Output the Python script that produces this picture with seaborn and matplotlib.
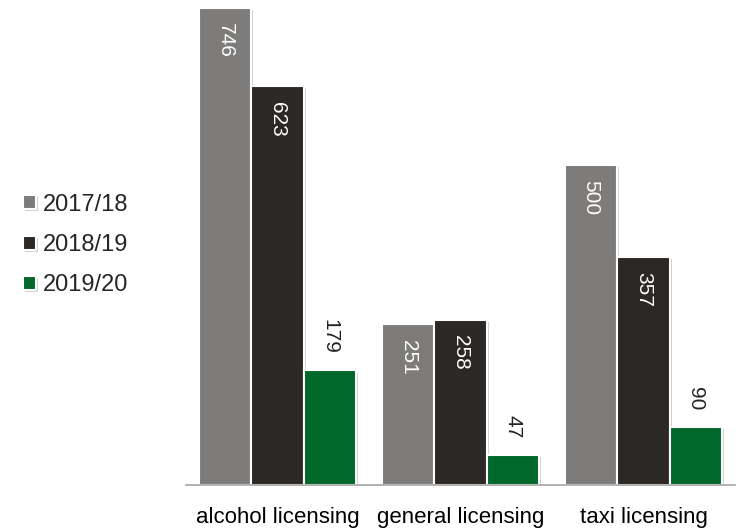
import matplotlib
matplotlib.use("Agg")
import matplotlib.pyplot as plt
import matplotlib.patheffects as pe
import seaborn as sns
import pandas as pd

categories = ["alcohol licensing", "general licensing", "taxi licensing"]
years = ["2017/18", "2018/19", "2019/20"]
v_2017 = [746, 251, 500]
v_2018 = [623, 258, 357]
v_2019 = [179, 47, 90]
palette = ["#7e7c7a", "#2c2825", "#00682a"]

rows = []
for yr, vals in zip(years, [v_2017, v_2018, v_2019]):
    for cat, v in zip(categories, vals):
        rows.append({"category": cat, "year": yr, "count": v})
df = pd.DataFrame(rows)

sns.set_theme(style="white")
plt.rcParams["font.family"] = ["Liberation Sans", "DejaVu Sans"]

fig = plt.figure(figsize=(7.45, 5.28), dpi=100)
ax = fig.add_axes([186 / 745, 1 - 485 / 528, 549 / 745, 480 / 528])

sns.barplot(data=df, x="category", y="count", hue="year", order=categories,
            hue_order=years, palette=palette, width=0.86, gap=0,
            edgecolor="white", linewidth=1.5, saturation=1, ax=ax,
            legend=True)

shadow = [pe.SimplePatchShadow(offset=(1.5, -1.5), shadow_rgbFace="#b0b0b0", alpha=0.6),
          pe.Normal()]
for p in ax.patches:
    p.set_path_effects(shadow)

ax.set_ylim(0, 750)
ax.set_xlim(-0.5, 2.5)
ax.set_xlabel("")
ax.set_ylabel("")
ax.set_yticks([])
ax.tick_params(axis="x", length=0, labelsize=16, pad=16, colors="black")
for s in ["top", "left", "right"]:
    ax.spines[s].set_visible(False)
ax.spines["bottom"].set_color("#a6a6a6")
ax.spines["bottom"].set_linewidth(1.2)

# value labels: inside the bar in white for the first two series, above for the last
for i, cont in enumerate(ax.containers):
    for bar in cont:
        h = bar.get_height()
        xc = bar.get_x() + bar.get_width() / 2
        if i < 2:
            ax.annotate(f"{h:.0f}", (xc, h), xytext=(0, -11), textcoords="offset points",
                        rotation=270, ha="center", va="top", color="white", fontsize=15)
        else:
            ax.annotate(f"{h:.0f}", (xc, h), xytext=(0, 12), textcoords="offset points",
                        rotation=270, ha="center", va="bottom", color="#222222", fontsize=15)

handles, labels = ax.get_legend_handles_labels()
ax.get_legend().remove()
leg = fig.legend(handles, labels, loc="center left", bbox_to_anchor=(0.002, 1 - 245 / 528),
                 frameon=False, fontsize=17, handlelength=0.55, handleheight=0.55,
                 handletextpad=0.3, labelspacing=0.78)

fig.savefig("out.png", dpi=100)
